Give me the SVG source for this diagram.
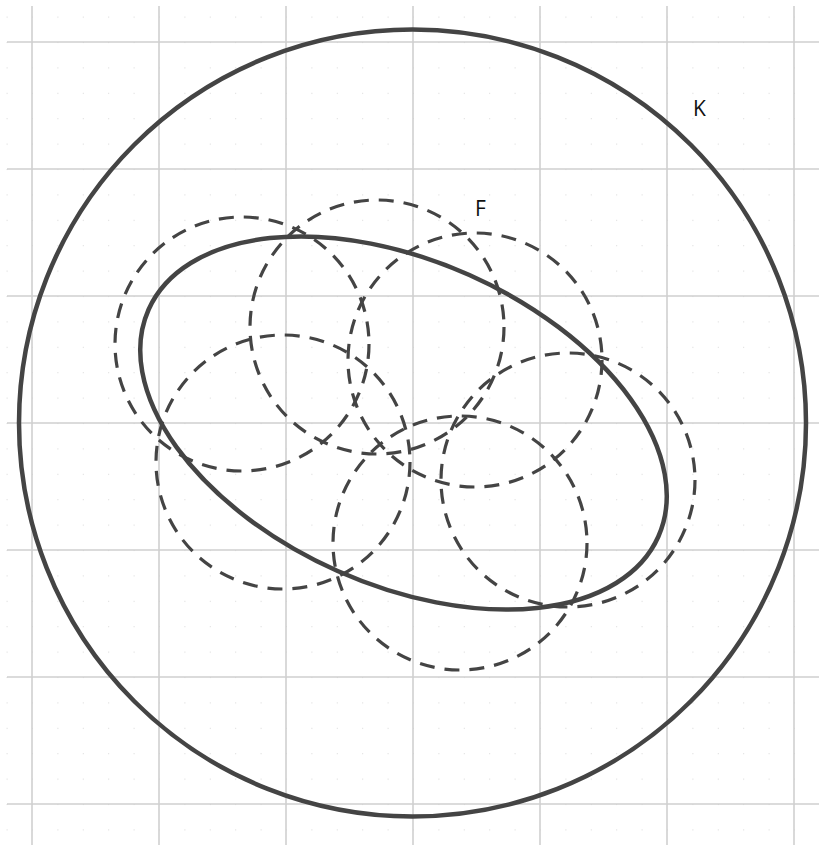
<svg xmlns="http://www.w3.org/2000/svg" width="819" height="845" viewBox="0 0 819 845">
<defs>
<style>
.grid{stroke:#d0d0d0;stroke-width:1.6;fill:none}
.solid{stroke:#444;stroke-width:4.5;fill:none}
.dash{stroke:#444;stroke-width:3.2;fill:none;stroke-dasharray:15 10}
.lbl{font-family:"Open Sans","Noto Sans",sans-serif;font-size:21px;fill:#111}
</style>
<pattern id="dots" x="6.6" y="16.6" width="25.4" height="25.4" patternUnits="userSpaceOnUse">
<circle cx="0" cy="0" r="1.1" fill="#d4d4d4"/>
</pattern>
</defs>
<rect width="819" height="845" fill="#fff"/>
<rect x="6" y="6" width="813" height="839" fill="url(#dots)"/>
<g id="grid">
<path class="grid" d="M32 6V845M159 6V845M286 6V845M413 6V845M540 6V845M667 6V845M794 6V845"/>
<path class="grid" d="M7 42H819M7 169H819M7 296H819M7 423H819M7 550H819M7 677H819M7 804H819"/>
</g>
<g id="K">
<circle class="solid" cx="412.5" cy="423" r="393.5"/>
<text class="lbl" x="693" y="116">K</text>
</g>
<g id="F">
<ellipse class="solid" cx="403.5" cy="423" rx="279" ry="162" transform="rotate(24 403.5 423)"/>
<text class="lbl" x="475" y="216">F</text>
</g>
<g id="covers">
<circle class="dash" cx="242" cy="344" r="127"/>
<circle class="dash" cx="377" cy="327" r="127"/>
<circle class="dash" cx="475" cy="360" r="127"/>
<circle class="dash" cx="283" cy="462" r="127"/>
<circle class="dash" cx="568" cy="480" r="127"/>
<circle class="dash" cx="460" cy="543" r="127"/>
</g>
</svg>
